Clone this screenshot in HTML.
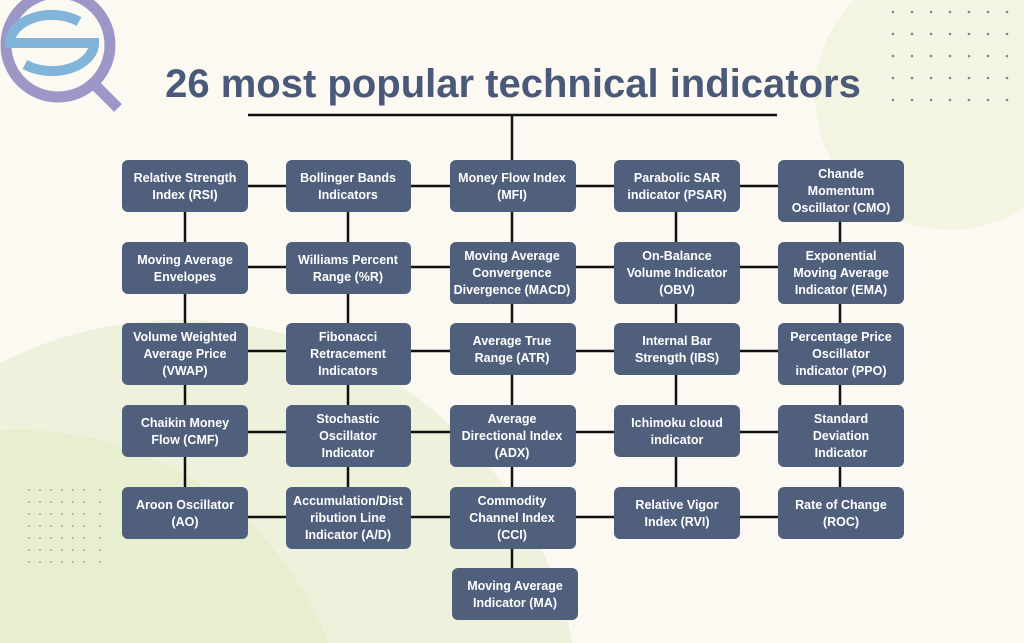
<!DOCTYPE html>
<html><head><meta charset="utf-8"><style>
html,body{margin:0;padding:0;background:#fbf9f1;overflow:hidden;width:1024px;height:643px;}
svg{display:block}
text{font-family:"Liberation Sans",sans-serif;}
</style></head><body>
<svg width="1024" height="643" viewBox="0 0 1024 643" xmlns="http://www.w3.org/2000/svg">
<rect width="1024" height="643" fill="#fbf9f1"/>
<circle cx="950" cy="95" r="135" fill="#f3f4e2"/>
<circle cx="180" cy="720" r="400" fill="#eef2dc"/>
<circle cx="20" cy="760" r="330" fill="#e8efd0"/>
<g fill="#7d86a0">
<g id="dr">
<circle cx="893" cy="12" r="1.3"/><circle cx="912" cy="12" r="1.3"/><circle cx="931" cy="12" r="1.3"/><circle cx="950" cy="12" r="1.3"/><circle cx="969" cy="12" r="1.3"/><circle cx="988" cy="12" r="1.3"/><circle cx="1007" cy="12" r="1.3"/>
</g>
<use href="#dr" y="22"/><use href="#dr" y="44"/><use href="#dr" y="66"/><use href="#dr" y="88"/>
</g>
<g fill="#a9ae8a">
<g id="dl">
<circle cx="29" cy="490" r="1"/><circle cx="40" cy="490" r="1"/><circle cx="51" cy="490" r="1"/><circle cx="62" cy="490" r="1"/><circle cx="73" cy="490" r="1"/><circle cx="84" cy="490" r="1"/><circle cx="100" cy="490" r="1"/>
</g>
<use href="#dl" y="12"/><use href="#dl" y="24"/><use href="#dl" y="36"/><use href="#dl" y="48"/><use href="#dl" y="60"/><use href="#dl" y="72"/>
</g>
<!-- logo -->
<circle cx="58" cy="45" r="52" fill="none" stroke="#9c97c6" stroke-width="11"/>
<line x1="92" y1="82" x2="118" y2="108" stroke="#9c97c6" stroke-width="11"/>
<path d="M79 21.5 A42 28 0 0 0 10 43 L94 43 A42 28 0 0 1 25 64.5" fill="none" stroke="#80b4d9" stroke-width="10"/>
<text x="513" y="97" text-anchor="middle" font-size="40" font-weight="bold" fill="#4a5979">26 most popular technical indicators</text>
<g stroke="#111" stroke-width="2.5">
<line x1="248" y1="115" x2="777" y2="115"/>
<line x1="512" y1="115" x2="512" y2="160"/>
<line x1="185" y1="186" x2="185" y2="510"/>
<line x1="348" y1="186" x2="348" y2="510"/>
<line x1="512" y1="186" x2="512" y2="590"/>
<line x1="676" y1="186" x2="676" y2="510"/>
<line x1="840" y1="186" x2="840" y2="510"/>
<line x1="185" y1="186" x2="840" y2="186"/>
<line x1="185" y1="267" x2="840" y2="267"/>
<line x1="185" y1="351" x2="840" y2="351"/>
<line x1="185" y1="432" x2="840" y2="432"/>
<line x1="185" y1="517" x2="840" y2="517"/>
</g>
<g fill="#4f5f7c">
<rect x="122" y="160" width="126" height="52" rx="6"/>
<rect x="286" y="160" width="125" height="52" rx="6"/>
<rect x="450" y="160" width="126" height="52" rx="6"/>
<rect x="614" y="160" width="126" height="52" rx="6"/>
<rect x="778" y="160" width="126" height="62" rx="6"/>
<rect x="122" y="242" width="126" height="52" rx="6"/>
<rect x="286" y="242" width="125" height="52" rx="6"/>
<rect x="450" y="242" width="126" height="62" rx="6"/>
<rect x="614" y="242" width="126" height="62" rx="6"/>
<rect x="778" y="242" width="126" height="62" rx="6"/>
<rect x="122" y="323" width="126" height="62" rx="6"/>
<rect x="286" y="323" width="125" height="62" rx="6"/>
<rect x="450" y="323" width="126" height="52" rx="6"/>
<rect x="614" y="323" width="126" height="52" rx="6"/>
<rect x="778" y="323" width="126" height="62" rx="6"/>
<rect x="122" y="405" width="126" height="52" rx="6"/>
<rect x="286" y="405" width="125" height="62" rx="6"/>
<rect x="450" y="405" width="126" height="62" rx="6"/>
<rect x="614" y="405" width="126" height="52" rx="6"/>
<rect x="778" y="405" width="126" height="62" rx="6"/>
<rect x="122" y="487" width="126" height="52" rx="6"/>
<rect x="286" y="487" width="125" height="62" rx="6"/>
<rect x="450" y="487" width="126" height="62" rx="6"/>
<rect x="614" y="487" width="126" height="52" rx="6"/>
<rect x="778" y="487" width="126" height="52" rx="6"/>
<rect x="452" y="568" width="126" height="52" rx="6"/>
</g>
<g fill="#fff" font-size="12.5" font-weight="bold" text-anchor="middle">
<text x="185" y="182">Relative Strength</text><text x="185" y="199">Index (RSI)</text>
<text x="348" y="182">Bollinger Bands</text><text x="348" y="199">Indicators</text>
<text x="512" y="182">Money Flow Index</text><text x="512" y="199">(MFI)</text>
<text x="677" y="182">Parabolic SAR</text><text x="677" y="199">indicator (PSAR)</text>
<text x="841" y="178">Chande</text><text x="841" y="195">Momentum</text><text x="841" y="212">Oscillator (CMO)</text>
<text x="185" y="264">Moving Average</text><text x="185" y="281">Envelopes</text>
<text x="348" y="264">Williams Percent</text><text x="348" y="281">Range (%R)</text>
<text x="512" y="260">Moving Average</text><text x="512" y="277">Convergence</text><text x="512" y="294">Divergence (MACD)</text>
<text x="677" y="260">On-Balance</text><text x="677" y="277">Volume Indicator</text><text x="677" y="294">(OBV)</text>
<text x="841" y="260">Exponential</text><text x="841" y="277">Moving Average</text><text x="841" y="294">Indicator (EMA)</text>
<text x="185" y="341">Volume Weighted</text><text x="185" y="358">Average Price</text><text x="185" y="375">(VWAP)</text>
<text x="348" y="341">Fibonacci</text><text x="348" y="358">Retracement</text><text x="348" y="375">Indicators</text>
<text x="512" y="345">Average True</text><text x="512" y="362">Range (ATR)</text>
<text x="677" y="345">Internal Bar</text><text x="677" y="362">Strength (IBS)</text>
<text x="841" y="341">Percentage Price</text><text x="841" y="358">Oscillator</text><text x="841" y="375">indicator (PPO)</text>
<text x="185" y="427">Chaikin Money</text><text x="185" y="444">Flow (CMF)</text>
<text x="348" y="423">Stochastic</text><text x="348" y="440">Oscillator</text><text x="348" y="457">Indicator</text>
<text x="512" y="423">Average</text><text x="512" y="440">Directional Index</text><text x="512" y="457">(ADX)</text>
<text x="677" y="427">Ichimoku cloud</text><text x="677" y="444">indicator</text>
<text x="841" y="423">Standard</text><text x="841" y="440">Deviation</text><text x="841" y="457">Indicator</text>
<text x="185" y="509">Aroon Oscillator</text><text x="185" y="526">(AO)</text>
<text x="348" y="505">Accumulation/Dist</text><text x="348" y="522">ribution Line</text><text x="348" y="539">Indicator (A/D)</text>
<text x="512" y="505">Commodity</text><text x="512" y="522">Channel Index</text><text x="512" y="539">(CCI)</text>
<text x="677" y="509">Relative Vigor</text><text x="677" y="526">Index (RVI)</text>
<text x="841" y="509">Rate of Change</text><text x="841" y="526">(ROC)</text>
<text x="515" y="590">Moving Average</text><text x="515" y="607">Indicator (MA)</text>
</g>
</svg>
</body></html>
